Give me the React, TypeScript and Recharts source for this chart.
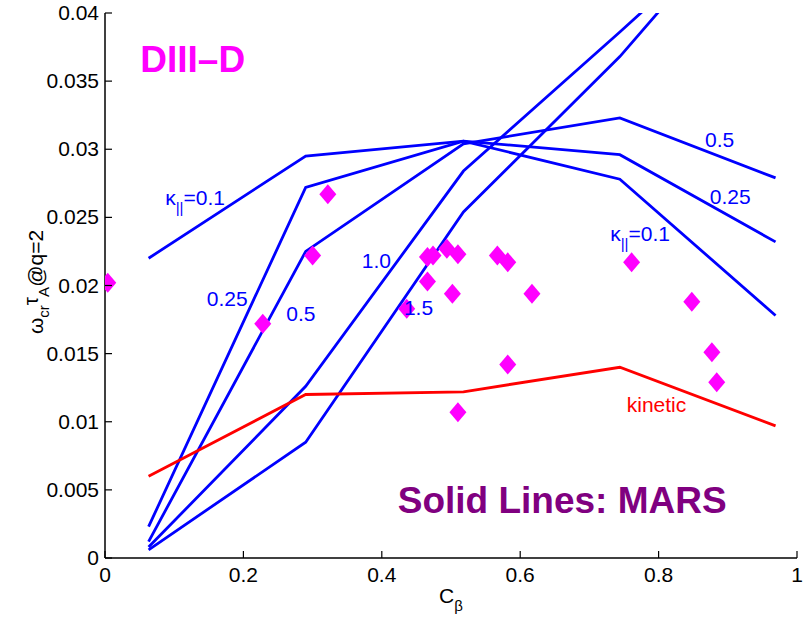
import { ComposedChart, Line, Scatter, XAxis, YAxis, ReferenceDot } from 'recharts';

// MARS curves share the same C_beta grid
const cBeta = [0.063, 0.29, 0.518, 0.744, 0.969];
const kappa01 = [0.022, 0.0295, 0.0306, 0.0278, 0.0178];
const kappa025 = [0.0023, 0.0272, 0.0306, 0.0296, 0.0232];
const kappa05 = [0.0012, 0.0225, 0.0304, 0.0323, 0.0279];
const kappa10 = [0.0008, 0.0126, 0.0284, 0.0386, 0.049];
const kappa15 = [0.0006, 0.0085, 0.0254, 0.0368, 0.05];
const kinetic = [0.006, 0.012, 0.0122, 0.014, 0.0097];

// DIII-D measurements
const expX = [0.004, 0.228, 0.3, 0.322, 0.436, 0.466, 0.466, 0.474, 0.494, 0.502, 0.51, 0.51, 0.567, 0.582, 0.582, 0.617, 0.761, 0.848, 0.877, 0.884];
const expY = [0.0202, 0.0172, 0.0222, 0.0267, 0.0183, 0.0221, 0.0203, 0.0222, 0.0227, 0.0194, 0.0223, 0.0107, 0.0222, 0.0217, 0.0142, 0.0194, 0.0217, 0.0188, 0.0151, 0.0129];

const xTicks = [0, 0.2, 0.4, 0.6, 0.8, 1];
const xTickLabels = ['0', '0.2', '0.4', '0.6', '0.8', '1'];
const yTicks = [0, 0.005, 0.01, 0.015, 0.02, 0.025, 0.03, 0.035, 0.04];
const yTickLabels = ['0', '0.005', '0.01', '0.015', '0.02', '0.025', '0.03', '0.035', '0.04'];

// curve annotations, anchored in data coordinates (left edge, baseline)
const curveLabels = [
  { x: 0.087, y: 0.0259, text: '=0.1', kappa: true, color: '#0000FF' },
  { x: 0.73, y: 0.0233, text: '=0.1', kappa: true, color: '#0000FF' },
  { x: 0.867, y: 0.0302, text: '0.5', kappa: false, color: '#0000FF' },
  { x: 0.874, y: 0.026, text: '0.25', kappa: false, color: '#0000FF' },
  { x: 0.371, y: 0.0213, text: '1.0', kappa: false, color: '#0000FF' },
  { x: 0.147, y: 0.0185, text: '0.25', kappa: false, color: '#0000FF' },
  { x: 0.262, y: 0.0174, text: '0.5', kappa: false, color: '#0000FF' },
  { x: 0.432, y: 0.0178, text: '1.5', kappa: false, color: '#0000FF' },
  { x: 0.754, y: 0.0107, text: 'kinetic', kappa: false, color: '#FF0000' },
];

const titleLabels = [
  { x: 0.051, y: 0.0357, text: 'DIII\u2013D', color: '#FF00FF' },
  { x: 0.423, y: 0.0033, text: 'Solid Lines: MARS', color: '#800080' },
];

const toPoints = (ys: number[]) => cBeta.map((x, i) => ({ x, y: ys[i] }));
const mars = [kappa01, kappa025, kappa05, kappa10, kappa15];
const expData = expX.map((x, i) => ({ x, y: expY[i] }));

const FONT = '"Liberation Sans", Arial, Helvetica, sans-serif';

const BottomTick = (props: any) => {
  const { x, y, index } = props;
  return (
    <g>
      <line x1={x} y1={y} x2={x} y2={y - 7} stroke="#000" strokeWidth={1.2} />
      <text x={x} y={y + 24} textAnchor="middle" fontSize={21} fontFamily={FONT} fill="#000">
        {xTickLabels[index]}
      </text>
    </g>
  );
};

const TopTick = (props: any) => {
  const { x, y } = props;
  return <line x1={x} y1={y} x2={x} y2={y + 7} stroke="#000" strokeWidth={1.2} />;
};

const LeftTick = (props: any) => {
  const { x, y, index } = props;
  return (
    <g>
      <line x1={x} y1={y} x2={x + 7} y2={y} stroke="#000" strokeWidth={1.2} />
      <text x={x - 6} y={y + 7} textAnchor="end" fontSize={21} fontFamily={FONT} fill="#000">
        {yTickLabels[index]}
      </text>
    </g>
  );
};

const RightTick = (props: any) => {
  const { x, y } = props;
  return <line x1={x} y1={y} x2={x - 7} y2={y} stroke="#000" strokeWidth={1.2} />;
};

const Diamond = (props: any) => {
  const { cx, cy } = props;
  return (
    <polygon
      points={`${cx},${cy - 10} ${cx + 8.5},${cy} ${cx},${cy + 10} ${cx - 8.5},${cy}`}
      fill="#FF00FF"
    />
  );
};

const XLabel = () => (
  <text x={451} y={603} textAnchor="middle" fontSize={21} fontFamily={FONT} fill="#000">
    C
    <tspan fontSize={15} dy={8}>
      β
    </tspan>
  </text>
);

const YLabel = () => (
  <text
    transform="translate(43, 282) rotate(-90)"
    x={0}
    y={0}
    textAnchor="middle"
    fontSize={21}
    fontFamily={FONT}
    fill="#000"
  >
    ω
    <tspan fontSize={15} dy={6}>
      cr
    </tspan>
    <tspan dy={-11}>τ</tspan>
    <tspan fontSize={15} dy={11}>
      A
    </tspan>
    <tspan dy={-6}>@q=2</tspan>
  </text>
);

const App = () => {
  return (
    <div style={{ position: 'fixed', left: 0, top: 0, background: '#fff' }}>
      <ComposedChart width={803} height={619} margin={{ top: 13, right: 6, bottom: 0, left: 0 }}>
        <XAxis
          type="number"
          dataKey="x"
          domain={[0, 1]}
          ticks={xTicks}
          allowDataOverflow
          height={61}
          tickSize={0}
          tickMargin={0}
          tickLine={false}
          tick={<BottomTick />}
          axisLine={{ stroke: '#000', strokeWidth: 1.5 }}
          label={<XLabel />}
        />
        <XAxis
          xAxisId="top"
          orientation="top"
          type="number"
          dataKey="x"
          domain={[0, 1]}
          ticks={xTicks}
          allowDataOverflow
          height={0}
          tickSize={0}
          tickMargin={0}
          tickLine={false}
          tick={<TopTick />}
          axisLine={{ stroke: '#000', strokeWidth: 1.5 }}
        />
        <YAxis
          type="number"
          domain={[0, 0.04]}
          ticks={yTicks}
          allowDataOverflow
          width={105}
          tickSize={0}
          tickMargin={0}
          tickLine={false}
          tick={<LeftTick />}
          axisLine={{ stroke: '#000', strokeWidth: 1.5 }}
          label={<YLabel />}
        />
        <YAxis
          yAxisId="right"
          orientation="right"
          type="number"
          domain={[0, 0.04]}
          ticks={yTicks}
          allowDataOverflow
          width={0}
          tickSize={0}
          tickMargin={0}
          tickLine={false}
          tick={<RightTick />}
          axisLine={{ stroke: '#000', strokeWidth: 1.5 }}
        />
        {mars.map((ys, i) => (
          <Line
            key={`mars-${i}`}
            data={toPoints(ys)}
            dataKey="y"
            type="linear"
            stroke="#0000FF"
            strokeWidth={2.8}
            dot={false}
            activeDot={false}
            isAnimationActive={false}
          />
        ))}
        <Line
          data={toPoints(kinetic)}
          dataKey="y"
          type="linear"
          stroke="#FF0000"
          strokeWidth={2.8}
          dot={false}
          activeDot={false}
          isAnimationActive={false}
        />
        <Scatter data={expData} dataKey="y" shape={<Diamond />} isAnimationActive={false} />
        {curveLabels.map((l, i) => (
          <ReferenceDot
            key={`cl-${i}`}
            x={l.x}
            y={l.y}
            r={0}
            fill="none"
            stroke="none"
            label={{
              content: (p: any) => (
                <text
                  x={p.viewBox.x}
                  y={p.viewBox.y}
                  fontSize={21}
                  fontFamily={FONT}
                  fill={l.color}
                >
                  {l.kappa ? (
                    <>
                      κ
                      <tspan fontSize={15} dy={8}>
                        ||
                      </tspan>
                      <tspan dy={-8}>{l.text}</tspan>
                    </>
                  ) : (
                    l.text
                  )}
                </text>
              ),
            }}
          />
        ))}
        {titleLabels.map((l, i) => (
          <ReferenceDot
            key={`tl-${i}`}
            x={l.x}
            y={l.y}
            r={0}
            fill="none"
            stroke="none"
            label={{
              content: (p: any) => (
                <text
                  x={p.viewBox.x}
                  y={p.viewBox.y}
                  fontSize={37}
                  fontWeight="bold"
                  fontFamily={FONT}
                  fill={l.color}
                >
                  {l.text}
                </text>
              ),
            }}
          />
        ))}
      </ComposedChart>
    </div>
  );
};

export default App;
